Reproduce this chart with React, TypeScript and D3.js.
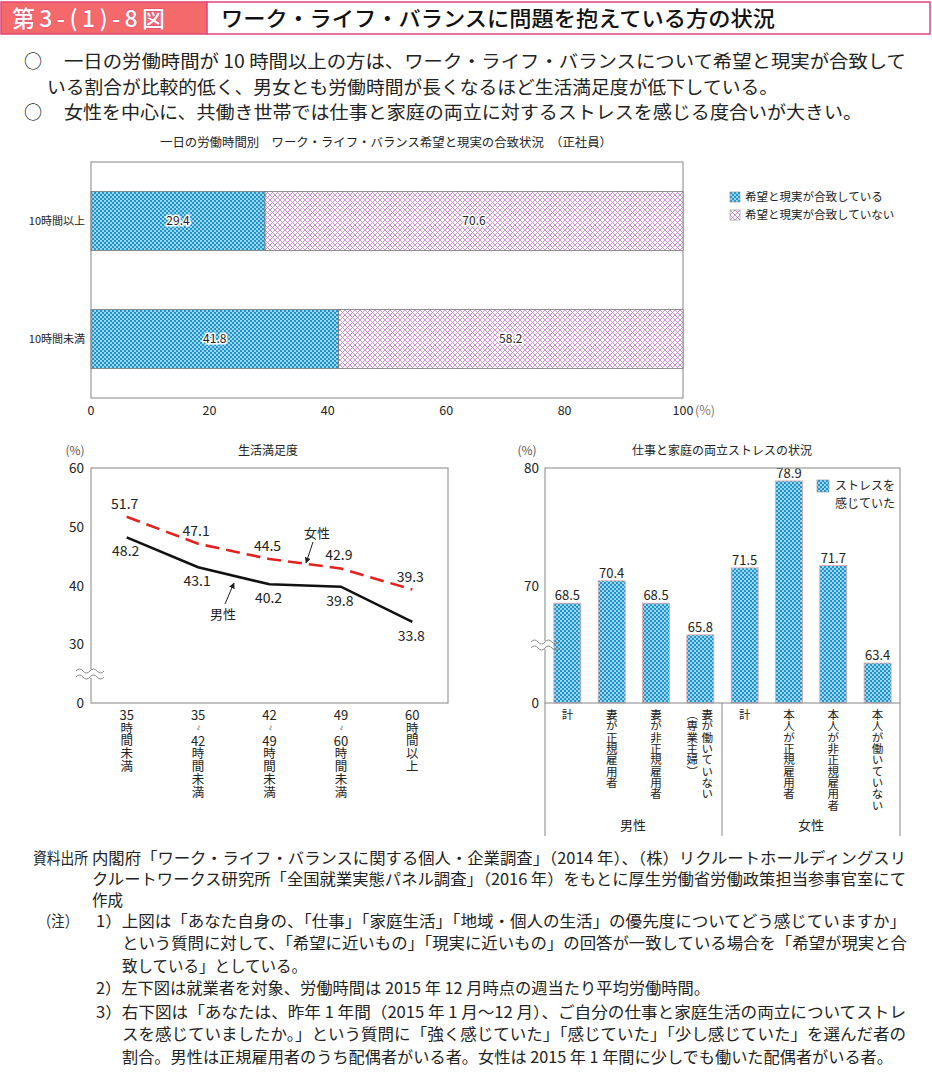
import React from "react";
import * as d3 from "d3";

// ---------- data ----------
const topCategories = ["10時間以上", "10時間未満"];
const matched = [29.4, 41.8];
const notMatched = [70.6, 58.2];
const topTicks = [0, 20, 40, 60, 80, 100];
const topLegend = ["希望と現実が合致している", "希望と現実が合致していない"];

const hourLabels = ["35時間未満", "35〜42時間未満", "42〜49時間未満", "49〜60時間未満", "60時間以上"];
const female = [51.7, 47.1, 44.5, 42.9, 39.3];
const male = [48.2, 43.1, 40.2, 39.8, 33.8];
const leftTicks = [0, 30, 40, 50, 60];

const stressCats = [
  "計",
  "妻が正規雇用者",
  "妻が非正規雇用者",
  "妻が働いていない（専業主婦）",
  "計",
  "本人が正規雇用者",
  "本人が非正規雇用者",
  "本人が働いていない",
];
const stressValues = [68.5, 70.4, 68.5, 65.8, 71.5, 78.9, 71.7, 63.4];
const stressGroups = ["男性", "女性"];
const rightTicks = [0, 70, 80];
const stressLegend = ["ストレスを", "感じていた"];

const bullets = [
  "一日の労働時間が 10 時間以上の方は、ワーク・ライフ・バランスについて希望と現実が合致して",
  "いる割合が比較的低く、男女とも労働時間が長くなるほど生活満足度が低下している。",
  "女性を中心に、共働き世帯では仕事と家庭の両立に対するストレスを感じる度合いが大きい。",
];

const FONT = '"Noto Sans CJK JP", "Noto Sans", sans-serif';

function wave(x0: number, y: number, w: number) {
  const seg = w / 4;
  return `M${x0},${y} q${seg / 2},-4 ${seg},0 t${seg},0 t${seg},0 t${seg},0`;
}

function BreakMark({ x, y }: { x: number; y: number }) {
  const w = 28;
  const x0 = x - w / 2;
  return (
    <g>
      <rect x={x - 4} y={y - 4} width={8} height={8} fill="white" />
      <path d={wave(x0, y - 3, w)} fill="none" stroke="#888" strokeWidth={1} />
      <path d={wave(x0, y + 3, w)} fill="none" stroke="#888" strokeWidth={1} />
    </g>
  );
}

function VText({ x, y, text, size, spacing, fill = "#222" }: { x: number; y: number; text: string; size: number; spacing: number; fill?: string }) {
  return (
    <text
      x={x}
      y={y}
      fontSize={size}
      fill={fill}
      style={{ writingMode: "vertical-rl", letterSpacing: `${spacing}px` } as any}
    >
      {text}
    </text>
  );
}

export default function App() {
  // ---------- top chart ----------
  const xTop = d3.scaleLinear().domain([0, 100]).range([91, 683]);
  const yTop = d3.scaleBand<string>().domain(topCategories).range([162, 398]).paddingInner(0.5).paddingOuter(0.25);

  // ---------- left chart ----------
  const xL = d3.scalePoint<string>().domain(hourLabels).range([91, 448]).padding(0.5);
  const yLraw = d3.scaleLinear().domain([20, 60]).range([703, 468]);
  const yL = (v: number) => (v === 0 ? yLraw(20) : yLraw(v));
  const lineGen = d3
    .line<number>()
    .x((_, i) => xL(hourLabels[i]) as number)
    .y((d) => yL(d));

  // ---------- right chart ----------
  const xR = d3.scaleBand<number>().domain(d3.range(stressCats.length)).range([545, 900]).paddingInner(0.39).paddingOuter(0.2);
  const yRraw = d3.scaleLinear().domain([60, 80]).range([703, 468]);
  const yR = (v: number) => (v === 0 ? yRraw(60) : yRraw(v));

  const notes: { x: number; y: number; text: string; len?: number }[] = [
    { x: 33, y: 858, text: "資料出所", len: 55 },
    { x: 92, y: 858, text: "内閣府「ワーク・ライフ・バランスに関する個人・企業調査」（2014 年）、（株）リクルートホールディングスリ", len: 814 },
    { x: 92, y: 879, text: "クルートワークス研究所「全国就業実態パネル調査」（2016 年）をもとに厚生労働省労働政策担当参事官室にて", len: 814 },
    { x: 92, y: 900, text: "作成" },
    { x: 38, y: 921, text: "（注）", len: 40 },
    { x: 96, y: 921, text: "1）上図は「あなた自身の、「仕事」「家庭生活」「地域・個人の生活」の優先度についてどう感じていますか」", len: 810 },
    { x: 122, y: 943, text: "という質問に対して、「希望に近いもの」「現実に近いもの」の回答が一致している場合を「希望が現実と合", len: 785 },
    { x: 122, y: 966, text: "致している」としている。" },
    { x: 96, y: 988, text: "2）左下図は就業者を対象、労働時間は 2015 年 12 月時点の週当たり平均労働時間。", len: 614 },
    { x: 96, y: 1012, text: "3）右下図は「あなたは、昨年 1 年間（2015 年 1 月〜12 月）、ご自分の仕事と家庭生活の両立についてストレ", len: 810 },
    { x: 122, y: 1034, text: "スを感じていましたか。」という質問に「強く感じていた」「感じていた」「少し感じていた」を選んだ者の", len: 784 },
    { x: 122, y: 1057, text: "割合。男性は正規雇用者のうち配偶者がいる者。女性は 2015 年 1 年間に少しでも働いた配偶者がいる者。", len: 771 },
  ];

  const leftStep = 12.8;
  const leftTop = 715;

  return (
    <svg width={932} height={1081} style={{ position: "absolute", left: 0, top: 0, background: "white" }} fontFamily={FONT}>
      <defs>
        <pattern id="blueDots" width={4} height={4} patternUnits="userSpaceOnUse">
          <rect width={4} height={4} fill="#1b96d2" />
          <circle cx={1} cy={1} r={0.9} fill="#dff3fb" />
          <circle cx={3} cy={3} r={0.9} fill="#dff3fb" />
        </pattern>
        <pattern id="pinkHatch" width={5} height={5} patternUnits="userSpaceOnUse">
          <rect width={5} height={5} fill="white" />
          <path d="M0,0 L5,5 M5,0 L0,5" stroke="#cc86d0" strokeWidth={0.9} />
        </pattern>
        <marker id="arrow" viewBox="0 0 10 10" refX={9} refY={5} markerWidth={6} markerHeight={6} orient="auto">
          <path d="M0,0 L10,5 L0,10 Z" fill="#222" />
        </marker>
      </defs>

      {/* header */}
      <rect x={1} y={2} width={206} height={32} fill="#f46a6a" stroke="#e0457a" strokeWidth={1.5} />
      <rect x={207} y={2} width={723} height={32} fill="white" stroke="#e0457a" strokeWidth={1.5} />
      <text x={12} y={27} fontSize={23} fill="white" stroke="#e0457a" strokeWidth={0.8} paintOrder="stroke" fontWeight={500} textLength={153} lengthAdjust="spacing">
        第3-(1)-8図
      </text>
      <text x={221} y={26} fontSize={21} fill="#111" fontWeight={500} textLength={554} lengthAdjust="spacingAndGlyphs">
        ワーク・ライフ・バランスに問題を抱えている方の状況
      </text>

      {/* bullets */}
      <text x={24} y={68} fontSize={18} fill="#222">○</text>
      <text x={64} y={68} fontSize={18} fill="#222" textLength={842} lengthAdjust="spacingAndGlyphs">{bullets[0]}</text>
      <text x={47} y={94} fontSize={18} fill="#222" textLength={731} lengthAdjust="spacingAndGlyphs">{bullets[1]}</text>
      <text x={24} y={119} fontSize={18} fill="#222">○</text>
      <text x={64} y={119} fontSize={18} fill="#222" textLength={798} lengthAdjust="spacingAndGlyphs">{bullets[2]}</text>

      {/* ---------- top chart ---------- */}
      <text x={386} y={147} fontSize={12} textAnchor="middle" fill="#222" textLength={452} lengthAdjust="spacingAndGlyphs">
        一日の労働時間別　ワーク・ライフ・バランス希望と現実の合致状況　（正社員）
      </text>
      <rect x={xTop(0)} y={162} width={xTop(100) - xTop(0)} height={236} fill="none" stroke="#999" strokeWidth={1.2} />
      {topCategories.map((c, i) => {
        const y0 = yTop(c) as number;
        const bh = yTop.bandwidth();
        return (
          <g key={c}>
            <rect x={xTop(0)} y={y0} width={xTop(matched[i]) - xTop(0)} height={bh} fill="url(#blueDots)" stroke="#777" strokeWidth={0.8} />
            <rect x={xTop(matched[i])} y={y0} width={xTop(matched[i] + notMatched[i]) - xTop(matched[i])} height={bh} fill="url(#pinkHatch)" stroke="#777" strokeWidth={0.8} />
            <text x={(xTop(0) + xTop(matched[i])) / 2} y={y0 + bh / 2 + 4} fontSize={12} textAnchor="middle" fill="#222" stroke="white" strokeWidth={3} paintOrder="stroke">
              {matched[i].toFixed(1)}
            </text>
            <text x={(xTop(matched[i]) + xTop(100)) / 2} y={y0 + bh / 2 + 4} fontSize={12} textAnchor="middle" fill="#222" stroke="white" strokeWidth={3} paintOrder="stroke">
              {notMatched[i].toFixed(1)}
            </text>
            <text x={85} y={y0 + bh / 2 + 4} fontSize={11} textAnchor="end" fill="#222">{c}</text>
          </g>
        );
      })}
      {topTicks.map((t) => (
        <text key={t} x={xTop(t)} y={415} fontSize={12.5} textAnchor="middle" fill="#222">{t}</text>
      ))}
      <text x={xTop(100) + 12} y={415} fontSize={12.5} fill="#777">(%)</text>
      {topLegend.map((l, i) => (
        <g key={l}>
          <rect x={730} y={192 + i * 18} width={10} height={10} fill={i === 0 ? "url(#blueDots)" : "url(#pinkHatch)"} stroke="#888" strokeWidth={0.6} />
          <text x={745} y={201 + i * 18} fontSize={11.5} fill="#222">{l}</text>
        </g>
      ))}

      {/* ---------- left chart ---------- */}
      <text x={75} y={455} fontSize={12} textAnchor="middle" fill="#555">(%)</text>
      <text x={268} y={455} fontSize={12} textAnchor="middle" fill="#222">生活満足度</text>
      <rect x={91} y={468} width={357} height={235} fill="none" stroke="#999" strokeWidth={1.2} />
      {leftTicks.map((t) => (
        <text key={t} x={84} y={yL(t) + 5} fontSize={13.5} textAnchor="end" fill="#222">{t}</text>
      ))}
      <BreakMark x={90} y={674} />
      <path d={lineGen(male) || ""} fill="none" stroke="#111" strokeWidth={2.6} />
      <path d={lineGen(female) || ""} fill="none" stroke="#e3211f" strokeWidth={2.6} strokeDasharray="14,7" />
      {female.map((v, i) => (
        <text key={"f" + i} x={(xL(hourLabels[i]) as number) - 2} y={yL(v) - 8} fontSize={14} textAnchor="middle" fill="#222">{v.toFixed(1)}</text>
      ))}
      {male.map((v, i) => (
        <text key={"m" + i} x={(xL(hourLabels[i]) as number) - 1} y={yL(v) + 19} fontSize={14} textAnchor="middle" fill="#222">{v.toFixed(1)}</text>
      ))}
      <text x={317} y={538} fontSize={13} textAnchor="middle" fill="#222">女性</text>
      <line x1={313} y1={542} x2={306} y2={563} stroke="#222" strokeWidth={1} markerEnd="url(#arrow)" />
      <text x={223} y={619} fontSize={13} textAnchor="middle" fill="#222">男性</text>
      <line x1={225} y1={604} x2={234} y2={583} stroke="#222" strokeWidth={1} markerEnd="url(#arrow)" />
      {hourLabels.map((l) => {
        const x = xL(l) as number;
        const m = l.match(/^(\d+)(?:〜(\d+))?(.*)$/) as RegExpMatchArray;
        const nums = m[2] ? [m[1], "〜", m[2]] : [m[1]];
        const rest = m[3];
        return (
          <g key={l}>
            {nums.map((tk, j) =>
              tk === "〜" ? (
                <text key={j} x={0} y={0} fontSize={10} textAnchor="middle" fill="#555" transform={`translate(${x},${leftTop + j * leftStep}) rotate(90)`} dy={3}>
                  ~
                </text>
              ) : (
                <text key={j} x={x} y={leftTop + j * leftStep + 5} fontSize={13} textAnchor="middle" fill="#222">{tk}</text>
              )
            )}
            <VText x={x} y={leftTop + nums.length * leftStep - 6.25} text={rest} size={12.5} spacing={0.3} />
          </g>
        );
      })}

      {/* ---------- right chart ---------- */}
      <text x={527} y={455} fontSize={12} textAnchor="middle" fill="#555">(%)</text>
      <text x={722} y={455} fontSize={12} textAnchor="middle" fill="#222">仕事と家庭の両立ストレスの状況</text>
      {stressValues.map((v, i) => (
        <g key={i}>
          <rect x={xR(i) as number} y={yR(v)} width={xR.bandwidth()} height={yR(0) - yR(v)} fill="url(#blueDots)" stroke="#e9a6a6" strokeWidth={0.8} />
          <text x={(xR(i) as number) + xR.bandwidth() / 2} y={yR(v) - 3} fontSize={13} textAnchor="middle" fill="#222">{v.toFixed(1)}</text>
        </g>
      ))}
      <rect x={545} y={468} width={355} height={235} fill="none" stroke="#999" strokeWidth={1.2} />
      {rightTicks.map((t) => (
        <text key={t} x={539} y={yR(t) + 5} fontSize={13.5} textAnchor="end" fill="#222">{t}</text>
      ))}
      <BreakMark x={545} y={645} />
      <rect x={817} y={480} width={12} height={12} fill="url(#blueDots)" stroke="#888" strokeWidth={0.6} />
      {stressLegend.map((s, i) => (
        <text key={s} x={835} y={490 + i * 17.5} fontSize={12} fill="#222">{s}</text>
      ))}
      {/* group dividers */}
      <line x1={545} y1={703} x2={545} y2={836} stroke="#999" strokeWidth={1.2} />
      <line x1={722} y1={703} x2={722} y2={836} stroke="#999" strokeWidth={1.2} />
      <line x1={900} y1={703} x2={900} y2={836} stroke="#999" strokeWidth={1.2} />
      {stressGroups.map((g, gi) => (
        <text key={g} x={gi === 0 ? 633 : 811} y={830} fontSize={13} textAnchor="middle" fill="#222">{g}</text>
      ))}
      {stressCats.map((c, i) => {
        const cx = (xR(i) as number) + xR.bandwidth() / 2;
        const m = c.match(/^(.*?)(（.*）)$/);
        const main = m ? m[1] : c;
        const sub = m ? m[2] : null;
        return (
          <g key={i}>
            <VText x={sub ? cx + 7 : cx} y={709} text={main} size={11.5} spacing={-0.2} />
            {sub && <VText x={cx - 8} y={709} text={sub} size={11.5} spacing={-0.2} />}
          </g>
        );
      })}

      {/* ---------- notes ---------- */}
      {notes.map((n, i) => (
        <text
          key={i}
          x={n.x}
          y={n.y + 5.5}
          fontSize={15.5}
          fill="#222"
          {...(n.len ? { textLength: n.len, lengthAdjust: "spacingAndGlyphs" } : {})}
        >
          {n.text}
        </text>
      ))}
    </svg>
  );
}
